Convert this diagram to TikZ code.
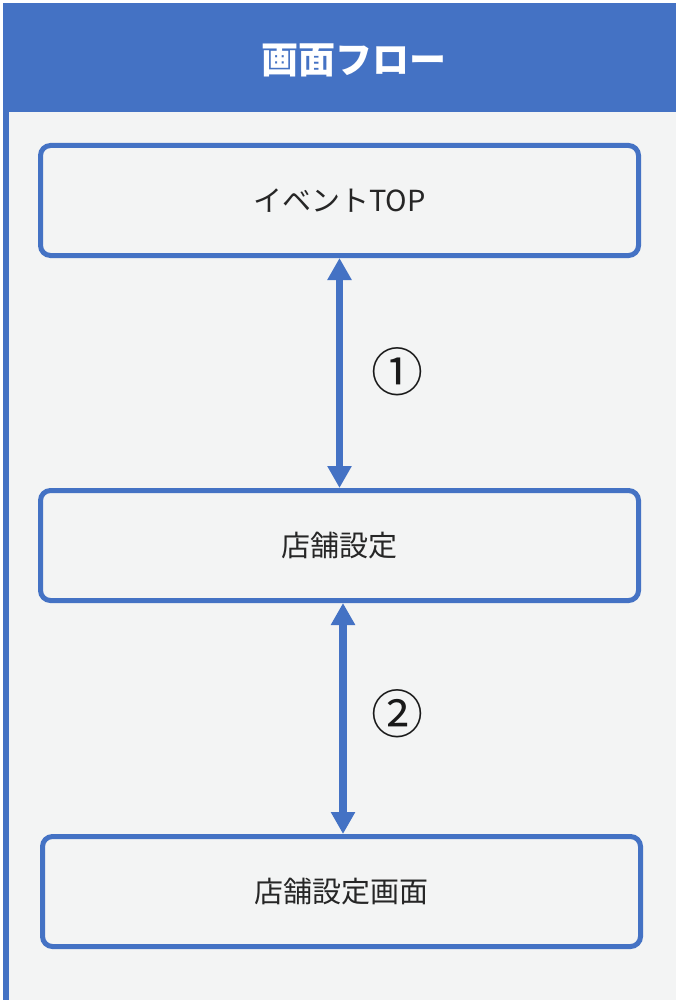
\documentclass[tikz,border=0pt]{standalone}
\usepackage{fontspec}
\setmainfont{Noto Sans CJK JP}
\usetikzlibrary{arrows.meta}
\usetikzlibrary{positioning}
\definecolor{flowblue}{HTML}{4472C4}
\definecolor{panelgray}{HTML}{F3F4F4}

\tikzset{
  screenbox/.style={draw=flowblue, line width=5pt, rounded corners=10pt,
    fill=panelgray, minimum width=598pt, minimum height=110pt,
    font=\fontsize{29}{33}\selectfont, text=black!85},
  flowarrow/.style={draw=flowblue, line width=7.5pt,
    {Triangle[width=23pt,length=22pt]}-{Triangle[width=23pt,length=22pt]}},
  steplabel/.style={font=\fontsize{52}{56}\selectfont, text=black!90},
}

\begin{document}
\begin{tikzpicture}[x=1pt,y=-1pt]
           \useasboundingbox (0,0) rectangle (676,1000);
           \fill[white] (0,0) rectangle (676,1000);

           % Panel background
           \fill[panelgray] (3,112) rectangle (676,1000);

           % Header
           \fill[flowblue] (3,3) rectangle (676,112);
           \node[text=white, font=\fontsize{37}{41}\selectfont\bfseries] (title) at (354,60) {画面フロー};

           % Left border
           \fill[flowblue] (3,112) rectangle (9,1000);

           % Screens
           \node[screenbox] (eventtop) at (339.5,200.5) {イベントTOP};
           \node[screenbox] (store) at (339.5,545.5) {店舗設定};
           \node[screenbox] (storescreen) at (341.5,891.5) {店舗設定画面};

           % Transitions
           \draw[flowarrow] (eventtop.south) -- (store.north);
           \node[steplabel] (one) at (397,372) {①};

           \draw[flowarrow] ([xshift=3.5pt]store.south) -- ([xshift=3.5pt]store.south |- storescreen.north);
           \node[steplabel] (two) at (397,714) {②};

\end{tikzpicture}
\end{document}
